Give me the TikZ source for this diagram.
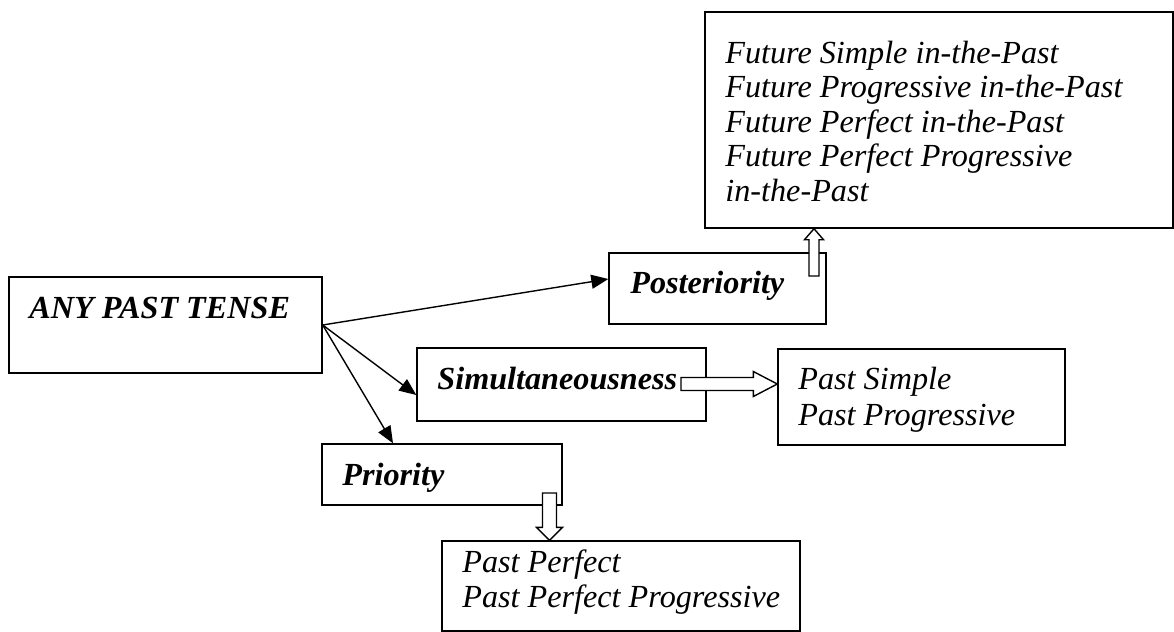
\documentclass[tikz,border=0pt]{standalone}
\usepackage{fontspec}
\setmainfont{Liberation Serif}
\usetikzlibrary{arrows.meta, calc}

\begin{document}
\begin{tikzpicture}[>={Triangle[length=8.5pt, width=7pt]}, x=0.5pt, y=-0.5pt,
    box/.style={draw, line width=0.7pt, inner sep=0pt},
    lbl/.style={anchor=base west, inner sep=0pt, font=\fontsize{16.1}{19}\selectfont\itshape},
    head/.style={lbl, font=\fontsize{16.1}{19}\selectfont\bfseries\itshape},
    link/.style={->, line width=0.7pt},
    hollow/.style={draw, fill=white, line width=0.7pt}]
  \useasboundingbox (0,0) rectangle (1174,632);

  % Boxes
  \node[box, minimum width=156.5pt, minimum height=48pt]   (anyp)  at (165.5,325) {};
  \node[box, minimum width=108.5pt, minimum height=35.5pt] (post)  at (717.5,288.5) {};
  \node[box, minimum width=144.5pt, minimum height=36.5pt] (simul) at (561.5,384.5) {};
  \node[box, minimum width=120pt, minimum height=30.5pt]   (prio)  at (442,474.5) {};
  \node[box, minimum width=234pt, minimum height=108pt]    (fut)   at (939,120) {};
  \node[box, minimum width=143.5pt, minimum height=48pt]   (psim)  at (921.5,397) {};
  \node[box, minimum width=179pt, minimum height=45pt]     (pperf) at (621,586) {};

  % Texts
  \node[head] (anyp-t)  at (29,318)  {ANY PAST TENSE};
  \node[head] (post-t)  at (630,293) {Posteriority};
  \node[head] (simul-t) at (437,389) {Simultaneousness};
  \node[head] (prio-t)  at (342,485) {Priority};
  \foreach \t [count=\i from 0] in {Future Simple in-the-Past, Future Progressive in-the-Past,
      Future Perfect in-the-Past, Future Perfect Progressive, in-the-Past}
    \node[lbl] (fut-\i) at (725,63+34.5*\i) {\t};
  \node[lbl] (psim-1)  at (798,389) {Past Simple};
  \node[lbl] (psim-2)  at (798,425) {Past Progressive};
  \node[lbl] (pperf-1) at (462,572) {Past Perfect};
  \node[lbl] (pperf-2) at (462,607) {Past Perfect Progressive};

  % Thin arrows
  \draw[link] (anyp.east) -- ([yshift=4.75pt]post.west);
  \draw[link] (anyp.east) -- ([yshift=-5.25pt]simul.west);
  \draw[link] (anyp.east) -- ([xshift=-24.5pt]prio.north);

  % Hollow arrows
  \coordinate (simul-out) at (681,384);
  \coordinate (psim-in) at ([yshift=6.5pt]psim.west);
  \coordinate (h1) at ($(psim-in)!12pt!(simul-out)$);
  \draw[hollow] ($(simul-out)!3.25pt!90:(psim-in)$) -- ($(h1)!3.25pt!90:(psim-in)$)
    -- ($(h1)!6.25pt!90:(psim-in)$) -- (psim-in) -- ($(h1)!6.25pt!-90:(psim-in)$)
    -- ($(h1)!3.25pt!-90:(psim-in)$) -- ($(simul-out)!3.25pt!-90:(psim-in)$) -- cycle;

  \coordinate (post-out) at (814,276);
  \coordinate (fut-in) at ([xshift=-62.5pt]fut.south);
  \coordinate (h2) at ($(fut-in)!5.5pt!(post-out)$);
  \draw[hollow] ($(post-out)!2.5pt!90:(fut-in)$) -- ($(h2)!2.5pt!90:(fut-in)$)
    -- ($(h2)!4.75pt!90:(fut-in)$) -- (fut-in) -- ($(h2)!4.75pt!-90:(fut-in)$)
    -- ($(h2)!2.5pt!-90:(fut-in)$) -- ($(post-out)!2.5pt!-90:(fut-in)$) -- cycle;

  \coordinate (prio-out) at (549.5,493);
  \coordinate (pperf-in) at ([xshift=-35.75pt]pperf.north);
  \coordinate (h3) at ($(pperf-in)!6.5pt!(prio-out)$);
  \draw[hollow] ($(prio-out)!3.5pt!90:(pperf-in)$) -- ($(h3)!3.5pt!90:(pperf-in)$)
    -- ($(h3)!6.5pt!90:(pperf-in)$) -- (pperf-in) -- ($(h3)!6.5pt!-90:(pperf-in)$)
    -- ($(h3)!3.5pt!-90:(pperf-in)$) -- ($(prio-out)!3.5pt!-90:(pperf-in)$) -- cycle;
\end{tikzpicture}
\end{document}
